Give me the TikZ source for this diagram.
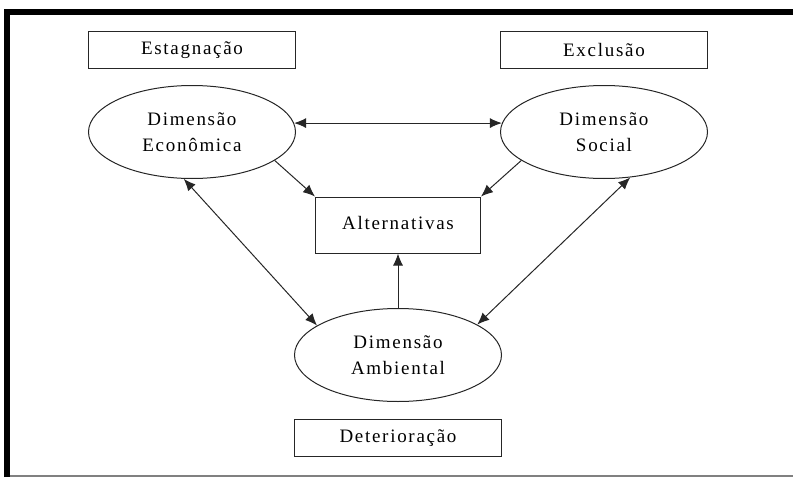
\documentclass[tikz,border=0pt]{standalone}
\usepackage{fontspec}
\setmainfont{Liberation Serif}[LetterSpace=9]
\usetikzlibrary{shapes,arrows.meta}

\begin{document}
\begin{tikzpicture}[x=1pt, y=1pt, node distance = 82pt, auto,
    font=\fontsize{19}{26}\selectfont]

    % Define block styles
    \tikzstyle{dimension} = [ellipse, draw=black!85, line width=1pt,
        minimum width=207pt, minimum height=93pt, align=center, inner sep=0pt]
    \tikzstyle{block} = [rectangle, draw=black!85, line width=1pt,
        minimum width=207pt, minimum height=37pt, inner sep=0pt]
    \tikzstyle{line} = [draw, black!85, line width=1pt,
        -{Latex[length=12pt,width=10pt]}]
    \tikzstyle{twoway} = [draw, black!85, line width=1pt,
        {Latex[length=12pt,width=10pt]}-{Latex[length=12pt,width=10pt]}]

    \useasboundingbox (-192,-345) rectangle (601,132);

    % Frame
    \draw [line width=6pt] (-185,-345) -- (-185,120) -- (601,120);
    \draw [gray, line width=1.2pt] (-182,-344) -- (601,-344);

    % Place nodes
    \node [dimension] (eco) {Dimensão\\Econômica};
    \node [dimension, right of=eco, node distance=412pt] (soc) {Dimensão\\Social};
    \node [block, above of=eco] (est) {Estagnação};
    \node [block, above of=soc] (exc) {Exclusão};
    \node [block, minimum width=165pt, minimum height=56pt] (alt) at (206,-93)
        {\raisebox{5pt}{Alternativas}};
    \node [dimension, below of=alt, node distance=130pt] (amb) {Dimensão\\Ambiental};
    \node [block, below of=amb, node distance=83pt] (det) {Deterioração};

    % Draw edges
    \path [twoway] (eco.5) -- (soc.175);
    \path [line] (eco.-19) -- (alt.north west);
    \path [line] (soc.-161) -- (alt.north east);
    \path [twoway] (eco.-100) -- (amb.160);
    \path [twoway] (soc.-60) -- (amb.21);
    \path [line] (amb.north) -- (alt.south);

\end{tikzpicture}
\end{document}
